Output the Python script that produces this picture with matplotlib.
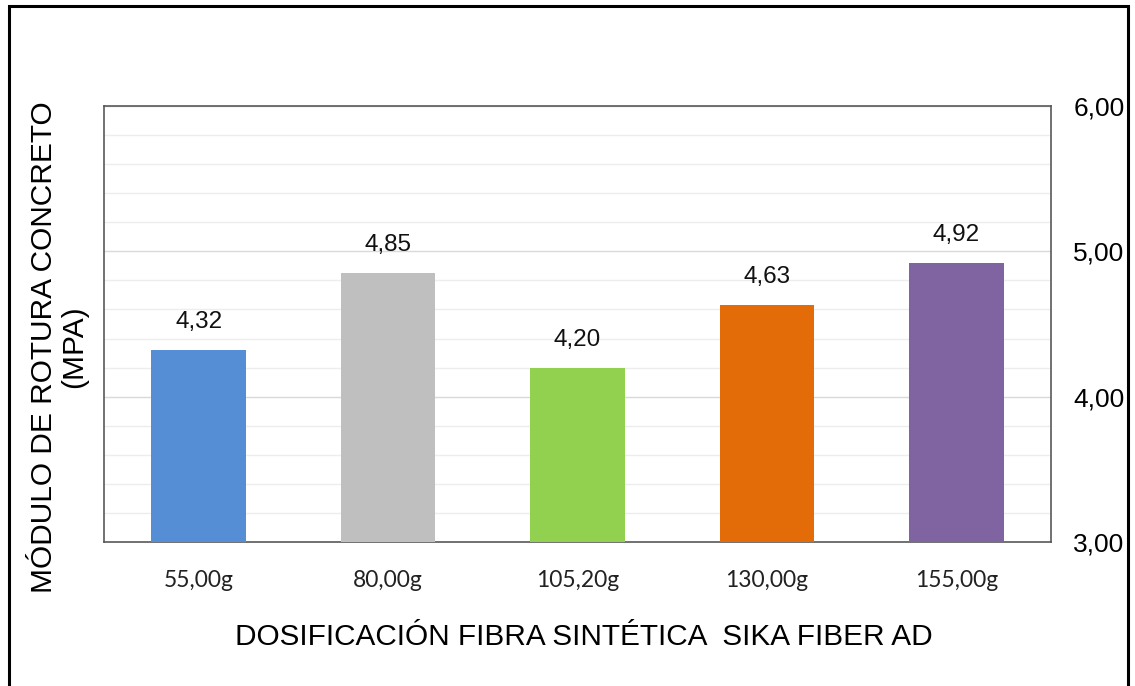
import numpy as np
import matplotlib
matplotlib.use('Agg')
import matplotlib.pyplot as plt
from matplotlib.patches import Rectangle
from matplotlib.ticker import MultipleLocator, FuncFormatter

# Dosificaciones de fibra y modulo de rotura medido
dosis = ['55,00g', '80,00g', '105,20g', '130,00g', '155,00g']
modulo = [4.32, 4.85, 4.20, 4.63, 4.92]
colores = ['#558ED5', '#BFBFBF', '#92D050', '#E36C09', '#8064A2']

y_min, y_max = 3.0, 6.0

plt.rcParams['font.family'] = ['Liberation Sans', 'DejaVu Sans']

fig = plt.figure(figsize=(11.35, 6.86), dpi=100)
ax = fig.add_axes([104 / 1135, 1 - 542 / 686, 947 / 1135, 436 / 686])

x = np.arange(len(dosis))
ax.bar(x, modulo, width=0.5, color=colores, zorder=3)

for xi, v in zip(x, modulo):
  ax.annotate(('%.2f' % v).replace('.', ','), (xi, v), xytext=(0, 12),
              textcoords='offset points', ha='center', va='bottom',
              fontsize=17.5, color='#111111')

ax.set_xlim(-0.5, len(dosis) - 0.5)
ax.set_ylim(y_min, y_max)

# eje vertical a la derecha, sin marcas
ax.yaxis.tick_right()
ax.yaxis.set_major_locator(MultipleLocator(1.0))
ax.yaxis.set_minor_locator(MultipleLocator(0.2))
ax.yaxis.set_major_formatter(FuncFormatter(lambda v, p: ('%.2f' % v).replace('.', ',')))
ax.tick_params(axis='y', which='both', length=0, pad=16, labelsize=19)
ax.tick_params(axis='x', length=0, pad=20)
ax.set_xticks(x)
ax.set_xticklabels(dosis, fontsize=16.5, family=['Lato', 'DejaVu Sans'], color='#222222')

ax.grid(axis='y', which='minor', color='#EDEDED', linewidth=1.0, zorder=0)
ax.grid(axis='y', which='major', color='#D9D9D9', linewidth=1.0, zorder=0)
for s in ax.spines.values():
  s.set_color('#595959')
  s.set_linewidth(1.2)

fig.text(584 / 1135, 1 - 637 / 686, 'DOSIFICACIÓN FIBRA SINTÉTICA  SIKA FIBER AD',
         ha='center', va='center', fontsize=21.4)
fig.text(59 / 1135, 1 - 347 / 686, 'MÓDULO DE ROTURA CONCRETO\n(MPA)',
         ha='center', va='center', rotation=90, fontsize=21.5, linespacing=1.07)

# marco exterior
fig.patches.append(Rectangle((9 / 1135, -0.1), 1119 / 1135, 0.1 + 680 / 686,
                             transform=fig.transFigure, fill=False,
                             edgecolor='black', linewidth=2.2))

fig.savefig('out.png', dpi=100)
